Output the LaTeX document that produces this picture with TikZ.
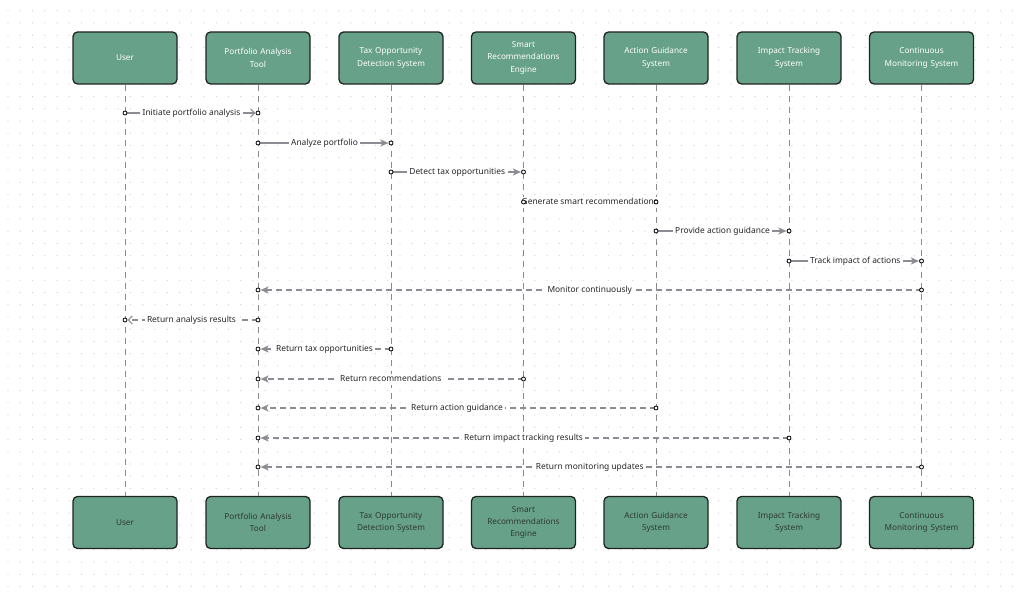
\documentclass[tikz,border=0pt]{standalone}
\usepackage{fontspec}
\setmainfont{Noto Sans}
\usetikzlibrary{arrows.meta}
\definecolor{boxfill}{HTML}{67A189}
\definecolor{boxline}{HTML}{1F2421}
\definecolor{lifeline}{HTML}{8A8A8A}
\definecolor{msgline}{HTML}{8C8C94}
\definecolor{griddot}{HTML}{CFCFCF}
\definecolor{bottomtext}{HTML}{2E3A33}
\tikzset{
  actorbox/.style={draw=boxline, line width=1.3pt, fill=boxfill, rounded corners=4.5pt,
    minimum width=104pt, minimum height=52pt, align=center, inner xsep=2pt, text width=99pt,
    font=\fontsize{8.2pt}{12.3pt}\selectfont},
  topbox/.style={actorbox, text=white},
  botbox/.style={actorbox, text=bottomtext},
  lifeln/.style={draw=lifeline, line width=0.9pt, dash pattern=on 6pt off 5pt},
  msg/.style={draw=msgline, line width=1.3pt, shorten >=2.6pt},
  retmsg/.style={msg, dash pattern=on 6pt off 4pt},
  filledhead/.style={-{Stealth[length=8pt,width=7pt,inset=2pt,fill=msgline]}},
  openhead/.style={-{Straight Barb[length=4pt,width=8pt,line width=1pt]}},
  lbl/.style={fill=white, inner xsep=2.5pt, inner ysep=1.5pt, text height=6.2pt, text depth=1.8pt,
    yshift=-0.6pt, text=black!85, font=\fontsize{8.4pt}{10pt}\selectfont},
  endpt/.style={draw=black, fill=white, line width=0.8pt}
}
\begin{document}
\begin{tikzpicture}[x=1pt,y=-1pt]
\useasboundingbox (0,0) rectangle (1024,593);
\fill[white] (0,0) rectangle (1024,593);
% dot grid
\foreach \i in {0,...,83}{
  \foreach \j in {0,...,47}{
    \fill[griddot] (8+12.25*\i, 10.7+12.25*\j) circle (0.6pt);
  }
}
% participants
\foreach \n/\x/\t in {1/125/User, 2/258/Portfolio Analysis\\Tool, 3/391/Tax Opportunity\\Detection System,
  4/523.5/Smart\\Recommendations\\Engine, 5/656/Action Guidance\\System, 6/789/Impact Tracking\\System,
  7/921.5/Continuous\\Monitoring System}{
  \node[topbox] (t\n) at (\x,58) {\t};
  \node[botbox] (b\n) at (\x,522.5) {\t};
  \draw[lifeln] (t\n.south) -- (b\n.north);
}
% messages
\foreach \i/\f/\t/\y/\lab/\st/\hd in {
  1/1/2/113/Initiate portfolio analysis/msg/openhead,
  2/2/3/143/Analyze portfolio/msg/filledhead,
  3/3/4/172/Detect tax opportunities/msg/filledhead,
  4/4/5/202/Generate smart recommendations/msg/filledhead,
  5/5/6/231/Provide action guidance/msg/filledhead,
  6/6/7/261/Track impact of actions/msg/filledhead,
  7/7/2/290/Monitor continuously/retmsg/filledhead,
  8/2/1/320/Return analysis results/retmsg/openhead,
  9/3/2/349/Return tax opportunities/retmsg/filledhead,
  10/4/2/379/Return recommendations/retmsg/filledhead,
  11/5/2/408/Return action guidance/retmsg/filledhead,
  12/6/2/438/Return impact tracking results/retmsg/filledhead,
  13/7/2/467/Return monitoring updates/retmsg/filledhead}{
  \coordinate (s\i) at (t\f.south |- 0,\y);
  \coordinate (e\i) at (t\t.south |- 0,\y);
  \draw[\st,\hd] (s\i) -- node[lbl] {\lab} (e\i);
  \filldraw[endpt] (s\i) circle (2pt);
  \filldraw[endpt] (e\i) circle (2pt);
}
\end{tikzpicture}
\end{document}
